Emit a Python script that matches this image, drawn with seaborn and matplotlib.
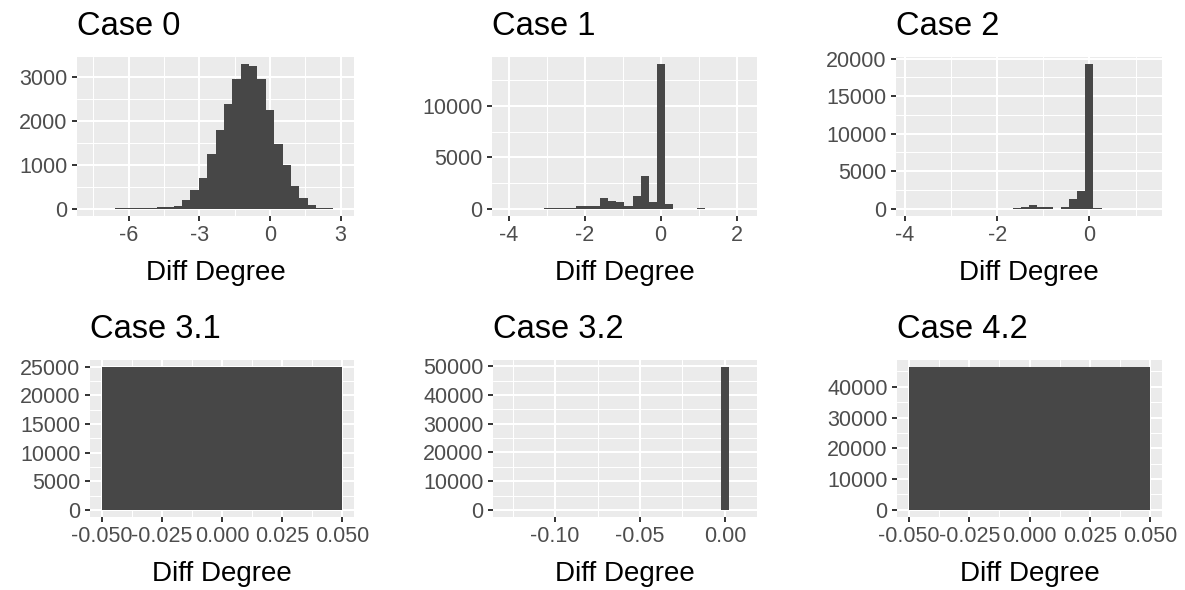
import numpy as np
import pandas as pd
import matplotlib
matplotlib.use("Agg")
import matplotlib.pyplot as plt
import seaborn as sns
from matplotlib.ticker import FixedLocator, FuncFormatter

# ---------------- data ----------------
titles = ["Case 0", "Case 1", "Case 2", "Case 3.1", "Case 3.2", "Case 4.2"]

case0_bin_start, case0_bin_width = -7.66, 0.3565
case0_counts = [1, 0, 0, 15, 18, 20, 22, 25, 30, 35,
                60, 200, 420, 690, 1245, 1790, 2385, 2945, 3290, 3250,
                2945, 2250, 1485, 985, 520, 255, 77, 25, 15, 2]

case1_bin_start, case1_bin_width = -4.124, 0.2115
case1_counts = [1, 2, 8, 10, 25, 30, 40, 100, 110, 240,
                250, 260, 1020, 800, 640, 250, 1215, 3140, 670, 14050,
                480, 20, 10, 10, 100, 10, 8, 5, 3, 1]

case2_bin_start, case2_bin_width = -3.933, 0.1748
case2_counts = [2, 0, 0, 1, 2, 3, 5, 8, 10, 25,
                30, 30, 35, 40, 180, 535, 180, 180, 3, 180,
                1290, 2360, 19250, 150, 10, 5, 3, 5, 15, 2]

case31_bin_start, case31_bin_width = -0.05, 0.1
case31_counts = [24950]

case32_bin_start, case32_bin_width = -0.1295, 0.00471
case32_counts = [1, 0, 0, 0, 0, 0, 0, 0, 0, 0,
                 0, 0, 0, 0, 0, 0, 0, 0, 0, 60,
                 60, 60, 60, 60, 60, 60, 60, 49700, 3, 1]

case42_bin_start, case42_bin_width = -0.05, 0.1
case42_counts = [46400]

x_label = "Diff Degree"

# tick breaks per panel
x_majors = [[-6, -3, 0, 3], [-4, -2, 0, 2], [-4, -2, 0],
            [-0.05, -0.025, 0.0, 0.025, 0.05], [-0.10, -0.05, 0.0],
            [-0.05, -0.025, 0.0, 0.025, 0.05]]
x_fmts = ["%g", "%g", "%g", "%.3f", "%.2f", "%.3f"]
y_steps = [1000, 5000, 5000, 5000, 10000, 10000]

panels = [
    (case0_bin_start, case0_bin_width, case0_counts),
    (case1_bin_start, case1_bin_width, case1_counts),
    (case2_bin_start, case2_bin_width, case2_counts),
    (case31_bin_start, case31_bin_width, case31_counts),
    (case32_bin_start, case32_bin_width, case32_counts),
    (case42_bin_start, case42_bin_width, case42_counts),
]

# ---------------- layout (pixels of the 1185x590 canvas) ----------------
W, H = 1185, 590
boxes_px = [(77, 57, 354, 216), (492, 57, 757, 216), (896, 57, 1162, 216),
            (90, 360, 354, 517), (493, 360, 757, 517), (897, 360, 1162, 517)]

sns.set_style("white")
plt.rcParams["font.family"] = ["Liberation Sans", "DejaVu Sans"]
plt.rcParams["axes.unicode_minus"] = False

fig = plt.figure(figsize=(W / 100, H / 100), dpi=100)
fig.patch.set_facecolor("white")

bar_color = "#474747"
panel_bg = "#EBEBEB"

for i, (start, width, counts) in enumerate(panels):
    x0, y0, x1, y1 = boxes_px[i]
    ax = fig.add_axes([x0 / W, (H - y1) / H, (x1 - x0) / W, (y1 - y0) / H])
    n = len(counts)
    edges = [float(start + width * k) for k in range(n + 1)]
    centers = [(edges[k] + edges[k + 1]) / 2 for k in range(n)]
    df = pd.DataFrame({"x": centers, "count": counts})
    sns.histplot(data=df, x="x", weights="count", bins=edges, ax=ax,
                 color=bar_color, alpha=1, linewidth=0, edgecolor=None)

    # ggplot-like expansion
    lo, hi = edges[0], edges[-1]
    pad = 0.05 * (hi - lo)
    ax.set_xlim(lo - pad, hi + pad)
    ymax = max(counts)
    ax.set_ylim(-0.05 * ymax, 1.05 * ymax)

    xm = x_majors[i]
    xstep = xm[1] - xm[0]
    xminor = [xm[0] - xstep / 2] + [v + xstep / 2 for v in xm]
    ax.xaxis.set_major_locator(FixedLocator(xm))
    ax.xaxis.set_minor_locator(FixedLocator(xminor))
    fmt = x_fmts[i]
    ax.xaxis.set_major_formatter(FuncFormatter(
        lambda v, p, f=fmt: f % (0.0 if abs(v) < 1e-12 else v)))

    ys = y_steps[i]
    ymaj = list(np.arange(0, 1.05 * ymax + 1, ys))
    ymin = [v + ys / 2 for v in ymaj]
    ax.yaxis.set_major_locator(FixedLocator(ymaj))
    ax.yaxis.set_minor_locator(FixedLocator(ymin))
    ax.yaxis.set_major_formatter(FuncFormatter(lambda v, p: "%d" % round(v)))

    ax.set_facecolor(panel_bg)
    ax.set_axisbelow(True)
    ax.grid(which="major", color="white", linewidth=1.5)
    ax.grid(which="minor", color="white", linewidth=0.75)
    for s in ax.spines.values():
        s.set_visible(False)
    ax.tick_params(which="major", direction="out", length=3.8, width=1.4,
                   color="#333333", labelcolor="#4D4D4D", labelsize=15.5, pad=3,
                   bottom=True, left=True)
    ax.tick_params(which="minor", length=0)

    ax.set_ylabel("")
    ax.set_xlabel(x_label, fontsize=20, color="black", labelpad=9.5)
    ax.set_title(titles[i], loc="left", fontsize=23.5, color="black", pad=16)

fig.savefig("out.png", dpi=100, facecolor="white")
